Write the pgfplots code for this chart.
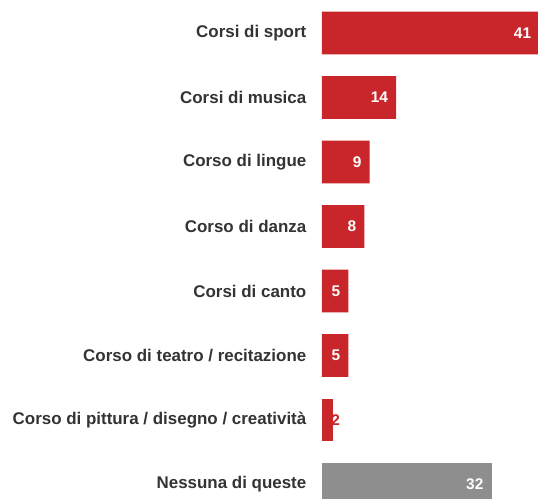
\documentclass[border=0pt]{standalone}
\usepackage{pgfplots}
\pgfplotsset{compat=1.18}
\usepackage{fontspec}
\setmainfont{Liberation Sans}
\definecolor{barred}{HTML}{C8262A}
\definecolor{bargray}{HTML}{8E8E8E}
\definecolor{labtext}{HTML}{333333}

\begin{document}
\begin{tikzpicture}
\begin{axis}[
	xbar,
	bar width=0.66,
	bar shift=0pt,
	scale only axis,
	clip=false,
	width=216bp,
	height=499bp,
	xmin=0, xmax=40.75,
	ymin=-0.512, ymax=7.225,
	y dir=reverse,
	axis line style={draw=none},
	tick style={draw=none},
	major tick length=0pt,
	xtick=\empty,
	ytick={0,...,7},
	yticklabels={Corsi di sport, Corsi di musica, Corso di lingue, Corso di danza, Corsi di canto, Corso di teatro / recitazione, Corso di pittura / disegno / creatività, Nessuna di queste},
	yticklabel style={font=\fontsize{17}{20}\selectfont\bfseries, text=labtext, inner sep=0pt, xshift=-15.5bp},
	point meta=x,
	/pgf/number format/assume math mode=true,
	nodes near coords={\pgfmathprintnumber\pgfplotspointmeta},
	inlabel/.style={every node near coord/.style={anchor=east, text=white, inner sep=0pt, xshift=-8bp, font=\fontsize{15.5}{18}\selectfont\bfseries}},
	outlabel/.style={every node near coord/.style={anchor=west, text=barred, inner sep=0pt, xshift=-1.5bp, font=\fontsize{15.5}{18}\selectfont\bfseries}},
]
	% red bars with labels inside
	\addplot[draw=none, fill=barred, inlabel] coordinates {
		(41,0) (14,1) (9,2) (8,3) (5,4) (5,5)
	};
	% the short bar: label in red just past its end
	\addplot[draw=none, fill=barred, outlabel] coordinates { (2,6) };
	% "none of these" in grey
	\addplot[draw=none, fill=bargray, inlabel] coordinates { (32,7) };
\end{axis}
\pgfresetboundingbox
\path ([xshift=-322bp]current axis.south west) rectangle (current axis.north east);
\end{tikzpicture}
\end{document}
